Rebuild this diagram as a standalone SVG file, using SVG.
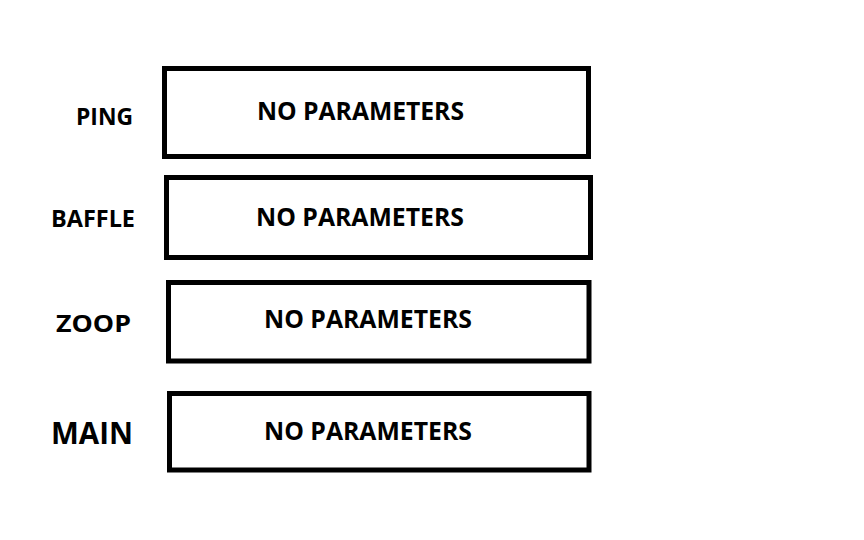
<svg xmlns="http://www.w3.org/2000/svg" width="864" height="540" viewBox="0 0 864 540">
<style>
.box{fill:#fff;stroke:#000;stroke-width:5}
.t{font-family:"Open Sans","Liberation Sans",sans-serif;font-weight:bold;fill:#000}
.p{font-size:25px}
.l{font-size:24px}
</style>
<rect width="864" height="540" fill="#fff"/>
<g id="ping">
<rect class="box" x="164.5" y="68.5" width="424" height="88"/>
<text class="t l" x="76" y="125" textLength="57" lengthAdjust="spacingAndGlyphs">PING</text>
<text class="t p" x="257" y="120" textLength="207" lengthAdjust="spacingAndGlyphs">NO PARAMETERS</text>
</g>
<g id="baffle">
<rect class="box" x="166.5" y="177.5" width="424" height="80"/>
<text class="t l" x="51" y="227" textLength="84" lengthAdjust="spacingAndGlyphs">BAFFLE</text>
<text class="t p" x="256" y="226" textLength="208" lengthAdjust="spacingAndGlyphs">NO PARAMETERS</text>
</g>
<g id="zoop">
<rect class="box" x="168.5" y="282.5" width="420.5" height="78.5"/>
<text class="t l" x="56" y="332" textLength="75" lengthAdjust="spacingAndGlyphs">ZOOP</text>
<text class="t p" x="264" y="328" textLength="208" lengthAdjust="spacingAndGlyphs">NO PARAMETERS</text>
</g>
<g id="main">
<rect class="box" x="169.5" y="393.5" width="419.5" height="76.5"/>
<text class="t" font-size="31" x="51" y="444" textLength="82" lengthAdjust="spacingAndGlyphs">MAIN</text>
<text class="t p" x="264" y="440" textLength="208" lengthAdjust="spacingAndGlyphs">NO PARAMETERS</text>
</g>
<g id="connectors"/>
</svg>
